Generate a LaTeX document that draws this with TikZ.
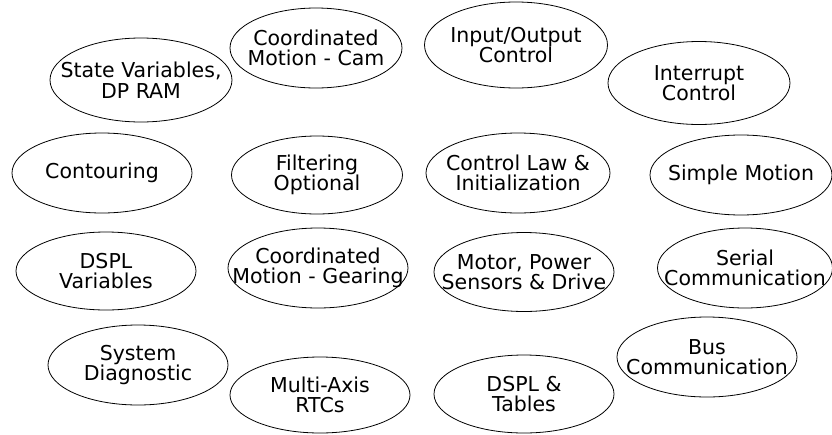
\documentclass[tikz,border=0pt]{standalone}
\usepackage{fontspec}
\setmainfont{DejaVu Sans}
\usetikzlibrary{shapes.geometric}

\begin{document}
\begin{tikzpicture}[
        x=1pt, y=-1pt,
        bubble/.style={draw, ellipse, line width=0.8pt, minimum width=180pt, minimum height=80pt, inner sep=0pt},
        every label/.style={font=\fontsize{20.5}{20.5}\selectfont, align=center, inner sep=0pt}
    ]
    \useasboundingbox (0,0) rectangle (832,434);

    % top of the ring
    \node[bubble, minimum width=172pt, label=center:{Coordinated\\Motion - Cam}] (Cam) at (316,48) {};
    \node[bubble, minimum width=183pt, minimum height=86pt, label=center:{Input/Output\\Control}] (IO) at (516,45) {};
    \node[bubble, minimum width=182pt, minimum height=84pt, label=center:{State Variables,\\DP RAM}] (State) at (141,80) {};
    \node[bubble, minimum width=182pt, minimum height=83pt, label=center:{Interrupt\\Control}] (Interrupt) at (699,83) {};

    % second row
    \node[bubble, label=center:{Contouring}] (Contour) at (102,173) {};
    \node[bubble, minimum width=171pt, minimum height=78pt, label=center:{Filtering\\Optional}] (Filter) at (317,175) {};
    \node[bubble, minimum width=184pt, label=center:{Control Law \&\\Initialization}] (Law) at (518,173) {};
    \node[bubble, minimum width=182pt, label=center:{Simple Motion}] (Simple) at (741,175) {};

    % third row
    \node[bubble, minimum height=78pt, label=center:{DSPL\\Variables}] (DsplVar) at (106,271) {};
    \node[bubble, label=center:{Coordinated\\Motion - Gearing}] (Gear) at (318,268) {};
    \node[bubble, minimum height=79pt, label=center:{Motor, Power\\Sensors \& Drive}] (Motor) at (524,272) {};
    \node[bubble, minimum width=175pt, label=center:{Serial\\Communication}] (Serial) at (745,268) {};

    % bottom of the ring
    \node[bubble, label=center:{System\\Diagnostic}] (Diag) at (138,365) {};
    \node[bubble, label=center:{Bus\\Communication}] (Bus) at (707,357) {};
    \node[bubble, minimum height=76pt, label=center:{Multi-Axis\\RTCs}] (RTC) at (320,395) {};
    \node[bubble, minimum height=78pt, label=center:{DSPL \&\\Tables}] (Tables) at (524,394) {};

\end{tikzpicture}
\end{document}
